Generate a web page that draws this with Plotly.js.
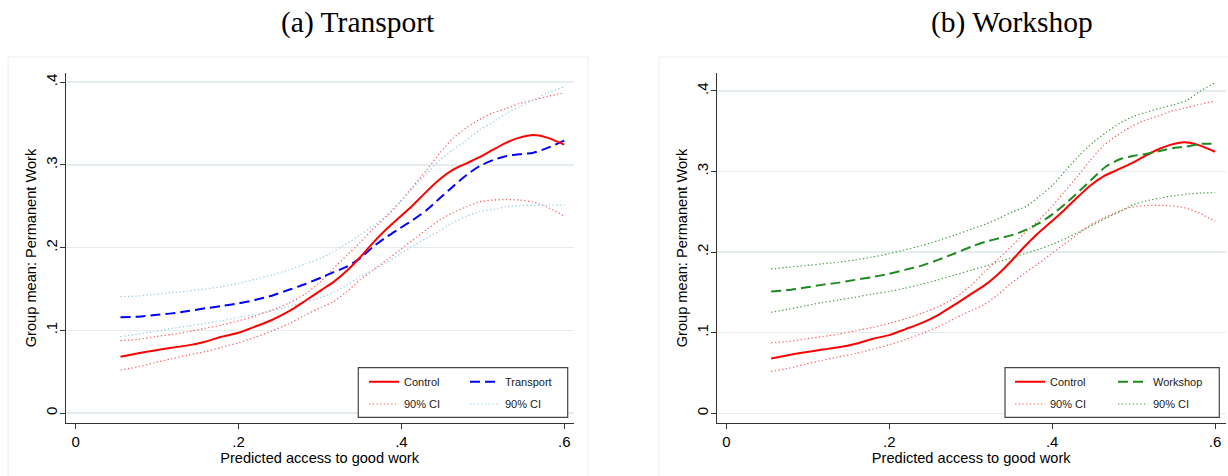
<!DOCTYPE html>
<html>
<head>
<meta charset="utf-8">
<script src="https://cdn.plot.ly/plotly-3.0.1.min.js"></script>
<style>
  html, body { margin: 0; padding: 0; background: #fff; }
  #chart { width: 1228px; height: 476px; }
</style>
</head>
<body>
<div id="chart"></div>
<script>
// ---------------- Data ----------------
const panelTitles = ["(a) Transport", "(b) Workshop"];
const xTitle = "Predicted access to good work";
const yTitle = "Group mean: Permanent Work";
const xTickVals = [0, 0.2, 0.4, 0.6];
const xTickText = ["0", ".2", ".4", ".6"];
const yTickVals = [0, 0.1, 0.2, 0.3, 0.4];
const yTickText = ["0", ".1", ".2", ".3", ".4"];
const legendNames = ["Control", "Transport", "Workshop", "90% CI"];

// Panel (a) grid of predicted access values
const xT = [0.055, 0.077, 0.097, 0.118, 0.138, 0.159, 0.179, 0.200, 0.220, 0.241, 0.261, 0.282, 0.302, 0.316, 0.333, 0.349, 0.365, 0.382, 0.398, 0.414, 0.431, 0.447, 0.463, 0.480, 0.496, 0.513, 0.529, 0.545, 0.562, 0.578, 0.600];

const control   = [0.0680, 0.0723, 0.0757, 0.0790, 0.0818, 0.0863, 0.0922, 0.0970, 0.1044, 0.1125, 0.1225, 0.1358, 0.1490, 0.1580, 0.1720, 0.1880, 0.2057, 0.2228, 0.2369, 0.2513, 0.2680, 0.2827, 0.2940, 0.3020, 0.3094, 0.3187, 0.3270, 0.3330, 0.3362, 0.3333, 0.3245];
const controlHi = [0.0875, 0.0891, 0.0923, 0.0951, 0.0983, 0.1024, 0.1064, 0.1116, 0.1173, 0.1245, 0.1326, 0.1439, 0.1600, 0.1745, 0.1905, 0.2060, 0.2225, 0.2380, 0.2545, 0.2737, 0.2938, 0.3140, 0.3320, 0.3450, 0.3551, 0.3632, 0.3684, 0.3744, 0.3785, 0.3825, 0.3873];
const controlLo = [0.0520, 0.0560, 0.0609, 0.0657, 0.0701, 0.0742, 0.0794, 0.0850, 0.0915, 0.0992, 0.1076, 0.1185, 0.1280, 0.1346, 0.1467, 0.1608, 0.1729, 0.1850, 0.1971, 0.2092, 0.2221, 0.2334, 0.2422, 0.2495, 0.2555, 0.2576, 0.2580, 0.2576, 0.2551, 0.2495, 0.2382];

const transport   = [0.1157, 0.1165, 0.1185, 0.1205, 0.1233, 0.1266, 0.1294, 0.1326, 0.1366, 0.1419, 0.1487, 0.1560, 0.1640, 0.1700, 0.1770, 0.1870, 0.2010, 0.2132, 0.2233, 0.2334, 0.2455, 0.2596, 0.2737, 0.2878, 0.2987, 0.3060, 0.3108, 0.3128, 0.3148, 0.3200, 0.3293];
const transportHi = [0.1407, 0.1415, 0.1435, 0.1455, 0.1475, 0.1499, 0.1528, 0.1568, 0.1616, 0.1669, 0.1729, 0.1802, 0.1876, 0.1951, 0.2052, 0.2152, 0.2261, 0.2394, 0.2555, 0.2717, 0.2898, 0.3059, 0.3180, 0.3301, 0.3422, 0.3523, 0.3624, 0.3704, 0.3785, 0.3865, 0.3946];
const transportLo = [0.0923, 0.0955, 0.0983, 0.1024, 0.1052, 0.1084, 0.1116, 0.1157, 0.1193, 0.1237, 0.1286, 0.1346, 0.1400, 0.1455, 0.1548, 0.1648, 0.1729, 0.1818, 0.1923, 0.2019, 0.2112, 0.2205, 0.2301, 0.2382, 0.2435, 0.2463, 0.2495, 0.2507, 0.2515, 0.2511, 0.2515];

// Panel (b) grid
const xW = [0.055, 0.076, 0.097, 0.117, 0.138, 0.158, 0.178, 0.199, 0.219, 0.240, 0.260, 0.281, 0.302, 0.319, 0.335, 0.352, 0.368, 0.384, 0.401, 0.417, 0.434, 0.450, 0.466, 0.483, 0.499, 0.515, 0.532, 0.548, 0.565, 0.581, 0.600];
const workshop   = [0.1510, 0.1530, 0.1560, 0.1593, 0.1621, 0.1655, 0.1688, 0.1729, 0.1779, 0.1832, 0.1903, 0.1986, 0.2072, 0.2130, 0.2172, 0.2213, 0.2275, 0.2358, 0.2474, 0.2606, 0.2763, 0.2916, 0.3061, 0.3152, 0.3193, 0.3218, 0.3255, 0.3289, 0.3309, 0.3342, 0.3342];
const workshopHi = [0.1791, 0.1812, 0.1832, 0.1853, 0.1874, 0.1903, 0.1936, 0.1977, 0.2027, 0.2081, 0.2143, 0.2213, 0.2288, 0.2350, 0.2420, 0.2503, 0.2565, 0.2689, 0.2834, 0.3020, 0.3206, 0.3359, 0.3483, 0.3599, 0.3681, 0.3731, 0.3785, 0.3826, 0.3880, 0.3992, 0.4103];
const workshopLo = [0.1253, 0.1291, 0.1332, 0.1373, 0.1406, 0.1440, 0.1477, 0.1510, 0.1551, 0.1601, 0.1655, 0.1717, 0.1779, 0.1828, 0.1882, 0.1932, 0.1986, 0.2035, 0.2101, 0.2172, 0.2254, 0.2337, 0.2420, 0.2503, 0.2585, 0.2635, 0.2668, 0.2697, 0.2718, 0.2730, 0.2738];

// ---------------- Styles ----------------
const W = 1228, H = 476;
const px = v => v / W;          // pixel x -> paper
const py = v => 1 - v / H;      // pixel y -> paper

const RED = "#ff0000", RED_CI = "#ff5a5a";
const BLUE = "#0000ff", BLUE_CI = "#93cbee";
const GREEN = "#1f8a1f", GREEN_CI = "#3c9e3c";
const FONT = "Liberation Sans, Arial, sans-serif";
const DOT = "1.3px,2.4px";
const DASH = "10px,5px";
const SMOOTH = { shape: "spline", smoothing: 0.6 };

function line(x, y, xa, ya, color, width, dash, name, legend, show) {
  return {
    type: "scatter", mode: "lines", x: x, y: y, xaxis: xa, yaxis: ya,
    name: name, legend: legend, showlegend: show, hoverinfo: "skip",
    line: Object.assign({ color: color, width: width, dash: dash }, SMOOTH)
  };
}

const data = [
  // Panel (a)
  line(xT, controlHi, "x", "y", RED_CI, 1.2, DOT, legendNames[3], "legend3", true),
  line(xT, controlLo, "x", "y", RED_CI, 1.2, DOT, legendNames[3], "legend3", false),
  line(xT, transportHi, "x", "y", BLUE_CI, 1.2, DOT, legendNames[3], "legend4", true),
  line(xT, transportLo, "x", "y", BLUE_CI, 1.2, DOT, legendNames[3], "legend4", false),
  line(xT, transport, "x", "y", BLUE, 2, DASH, legendNames[1], "legend2", true),
  line(xT, control, "x", "y", RED, 2, "solid", legendNames[0], "legend", true),
  // Panel (b)
  line(xT, controlHi, "x2", "y2", RED_CI, 1.2, DOT, legendNames[3], "legend7", true),
  line(xT, controlLo, "x2", "y2", RED_CI, 1.2, DOT, legendNames[3], "legend7", false),
  line(xW, workshopHi, "x2", "y2", GREEN_CI, 1.2, DOT, legendNames[3], "legend8", true),
  line(xW, workshopLo, "x2", "y2", GREEN_CI, 1.2, DOT, legendNames[3], "legend8", false),
  line(xT, control, "x2", "y2", RED, 2, "solid", legendNames[0], "legend5", true),
  line(xW, workshop, "x2", "y2", GREEN, 2, DASH, legendNames[2], "legend6", true)
];

const axisFont = { family: FONT, size: 14.6, color: "#000" };
const tickFont = { family: FONT, size: 15, color: "#000" };
const GRID = "#e4ecef";

function xAxis(domain, range) {
  return {
    domain: domain, range: range, tickmode: "array", tickvals: xTickVals, ticktext: xTickText,
    ticks: "outside", ticklen: 5, tickwidth: 1, tickcolor: "#333",
    showline: true, linecolor: "#333", linewidth: 1, showgrid: false, zeroline: false,
    tickfont: tickFont, title: { text: xTitle, font: axisFont, standoff: 0 }, fixedrange: true
  };
}
function yAxis(anchor, range) {
  return {
    anchor: anchor, domain: [py(422.7), py(73.3)], range: range,
    tickmode: "array", tickvals: yTickVals, ticktext: yTickText, tickangle: -90,
    ticks: "outside", ticklen: 5, tickwidth: 1, tickcolor: "#333", ticklabelstandoff: -3,
    showline: true, linecolor: "#333", linewidth: 1,
    showgrid: true, gridcolor: GRID, gridwidth: 1.5, zeroline: false,
    tickfont: tickFont, title: { text: yTitle, font: axisFont, standoff: 2 }, fixedrange: true
  };
}

function leg(x, y) {
  return {
    x: px(x), y: py(y), xanchor: "left", yanchor: "middle", orientation: "v",
    bgcolor: "rgba(0,0,0,0)", borderwidth: 0,
    font: { family: FONT, size: 11, color: "#1a1a1a" },
    itemclick: false, itemdoubleclick: false, tracegroupgap: 0
  };
}
const ROW1 = 381.7, ROW2 = 404;

const layout = {
  width: W, height: H,
  margin: { l: 0, r: 0, t: 0, b: 0 },
  paper_bgcolor: "#fff", plot_bgcolor: "#fff",
  font: { family: FONT, color: "#000" },
  xaxis: Object.assign(xAxis([px(65.7), px(573.5)], [-0.0123, 0.6113]), { anchor: "y" }),
  yaxis: yAxis("x", [-0.0117, 0.4108]),
  xaxis2: Object.assign(xAxis([px(716.7), px(1225.7)], [-0.0118, 0.613]), { anchor: "y2" }),
  yaxis2: yAxis("x2", [-0.0117, 0.4218]),
  legend: leg(364, ROW1), legend2: leg(465, ROW1),
  legend3: leg(364, ROW2), legend4: leg(465, ROW2),
  legend5: leg(1010, ROW1), legend6: leg(1113, ROW1),
  legend7: leg(1010, ROW2), legend8: leg(1113, ROW2),
  shapes: [
    // panel frames
    { type: "rect", xref: "paper", yref: "paper", x0: px(8), x1: px(588), y0: -0.05, y1: py(57),
      line: { color: "#ececec", width: 1 }, fillcolor: "rgba(0,0,0,0)", layer: "below" },
    { type: "rect", xref: "paper", yref: "paper", x0: px(659), x1: 1.05, y0: -0.05, y1: py(57),
      line: { color: "#ececec", width: 1 }, fillcolor: "rgba(0,0,0,0)", layer: "below" },
    // legend boxes
    { type: "rect", xref: "paper", yref: "paper", x0: px(358.3), x1: px(567.7), y0: py(417.3), y1: py(367.7),
      line: { color: "#444", width: 1.2 }, fillcolor: "#fff", layer: "above" },
    { type: "rect", xref: "paper", yref: "paper", x0: px(1005), x1: px(1219.3), y0: py(417.3), y1: py(367.7),
      line: { color: "#444", width: 1.2 }, fillcolor: "#fff", layer: "above" }
  ],
  annotations: [
    { text: panelTitles[0], xref: "paper", yref: "paper", x: px(358), y: py(22), xanchor: "center", yanchor: "middle",
      showarrow: false, font: { family: "Liberation Serif, Times New Roman, serif", size: 29.5, color: "#000" } },
    { text: panelTitles[1], xref: "paper", yref: "paper", x: px(1012), y: py(22), xanchor: "center", yanchor: "middle",
      showarrow: false, font: { family: "Liberation Serif, Times New Roman, serif", size: 29.5, color: "#000" } }
  ]
};

Plotly.newPlot("chart", data, layout, { displayModeBar: false, staticPlot: true });
</script>
</body>
</html>
